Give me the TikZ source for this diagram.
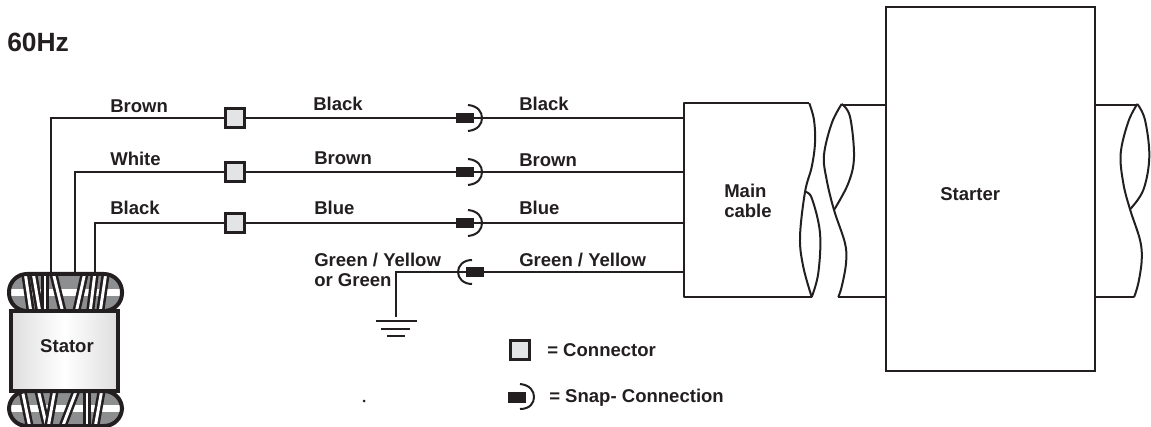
\documentclass[tikz,border=0pt]{standalone}
\usepackage{fontspec}
\setmainfont{Liberation Sans}
\definecolor{ink}{HTML}{231F20}
\definecolor{boxfill}{HTML}{E3E4E5}
\definecolor{band}{HTML}{8C8E90}
\tikzset{
  lab/.style={anchor=mid west,inner sep=0pt,yshift=-2.3pt,font=\fontsize{13.9pt}{15pt}\selectfont\bfseries,text=ink,align=left},
  wire/.style={draw=ink,line width=1.4pt},
  outline/.style={draw=ink,line width=1.6pt},
  conn/.style={draw=ink,line width=2.7pt,fill=boxfill,minimum size=14.5pt,inner sep=0pt,rectangle},
  snapblock/.style={fill=ink,draw=none,minimum width=13.5pt,minimum height=7.8pt,inner sep=0pt,rectangle},
  snaparc/.style={draw=ink,line width=1.5pt},
  stripe/.style={line width=2.2pt,draw=white},
  blackstripe/.style={line width=6pt,draw=ink},
  wave/.style={draw=ink,line width=1.5pt,line join=round}
}
\begin{document}
\begin{tikzpicture}[x=0.75pt,y=-0.75pt]
\useasboundingbox (0,0) rectangle (1151,427);
\node[lab,font=\fontsize{19.8pt}{22pt}\selectfont\bfseries,yshift=-2pt] (hz) at (7,42) {60Hz};
% stator coils
\def\coil#1#2{%
  \begin{scope}
    \clip[rounded corners=13.5pt] (9,#1) rectangle (122,#2);
    \fill[band] (9,#1) rectangle (122,#2);
    \fill[white] (9,{(#1+#2)/2-3.5}) rectangle (122,{(#1+#2)/2+3.5});
  \end{scope}}
\coil{274}{311}
\coil{391}{426}
\begin{scope}
  \clip[rounded corners=13.5pt] (9,274) rectangle (122,311);
  \foreach \a/\b in {25/31,33/40,45/45,53/63,85/76,95/90,106/100}{
    \draw[blackstripe] (\a,272) -- (\b,313);
    \draw[stripe] (\a,272) -- (\b,313);
  }
\end{scope}
\draw[draw=ink,line width=3pt,rounded corners=13.5pt] (9,274) rectangle (122,311);
\begin{scope}
  \clip[rounded corners=13.5pt] (9,391) rectangle (122,426);
  \foreach \a/\b in {22/30,38/47,55/48,77/62,87/87,102/95}{
    \draw[blackstripe] (\a,389) -- (\b,428);
    \draw[stripe] (\a,389) -- (\b,428);
  }
\end{scope}
\draw[draw=ink,line width=3pt,rounded corners=13.5pt] (9,391) rectangle (122,426);
% stator body
\shade[left color=black!13,right color=black!13,middle color=white] (11,311) rectangle (118,391);
\node[draw=ink,line width=2.8pt,minimum width=80.25pt,minimum height=60pt,inner sep=0pt] (stator) at (64.5,351) {};
\node[inner sep=0pt,text=ink,font=\fontsize{13.9pt}{15pt}\selectfont\bfseries] (statorlab) at (67,346) {Stator};
% free ends
\coordinate (w1) at (51,273);
\coordinate (w2) at (75,273);
\coordinate (w3) at (95,273);
\coordinate (c1) at (684,118);
\coordinate (c2) at (684,172);
\coordinate (c3) at (684,223);
\coordinate (c4) at (684,272);
\coordinate (gtop) at (396,272);
\coordinate (gbot) at (396,317);
% connectors and snaps
\node[conn] (b1) at (235,118) {};
\node[conn] (b2) at (235,172) {};
\node[conn] (b3) at (235,223) {};
\node[snapblock] (s1) at (465,118) {};
\node[snapblock] (s2) at (465,172) {};
\node[snapblock] (s3) at (465,223) {};
\node[snapblock] (s4) at (475,272) {};
% wires
\draw[wire] (w1) |- (b1);
\draw[wire] (w2) |- (b2);
\draw[wire] (w3) |- (b3);
\draw[wire] (b1) -- (s1);
\draw[wire] (b2) -- (s2);
\draw[wire] (b3) -- (s3);
\draw[wire] (s1) -- (c1);
\draw[wire] (s2) -- (c2);
\draw[wire] (s3) -- (c3);
\draw[wire] (s4) -- (c4);
\draw[wire] (s4) -- (gtop) -- (gbot);
% snap arcs
\foreach \y in {118,172,223}{
  \draw[snaparc] (468,\y-13) .. controls (478,\y-12) and (482,\y-6) .. (482,\y) .. controls (482,\y+6) and (478,\y+12) .. (468,\y+13);
}
\draw[snaparc] (472,260) .. controls (463,260) and (458,266) .. (458,272) .. controls (458,278) and (463,284) .. (472,284);
% ground
\draw[draw=ink,line width=1.3pt] (376,321) -- (417,321);
\draw[draw=ink,line width=1.3pt] (381,329) -- (410,329);
\draw[draw=ink,line width=1.3pt] (387,336) -- (405,336);
% main cable
\draw[outline,line join=round] (809.3,103) -- (684,103) -- (684,297) -- (811.7,297);
\draw[wave] plot[smooth,tension=0.6] coordinates {(809.3,103.3) (814,120) (815,143) (811.7,167) (805,192) (800,237) (803.3,267) (811.7,297)};
\draw[wave] plot[smooth,tension=0.6] coordinates {(805,192) (811.7,198) (820,233) (818.3,273) (811.7,297)};
\node[lab,anchor=north west,yshift=2.3pt] (main) at (724,184) {Main\\cable};
% starter
\node[draw=ink,line width=1.8pt,minimum width=156.75pt,minimum height=273pt,inner sep=0pt] (st) at (990.5,189) {};
\node[lab] (startlab) at (940,194) {Starter};
% left stub
\coordinate (lt) at (841.7,105);
\coordinate (lb) at (838.3,297);
\draw[outline] (lt) -- (lt -| st.west);
\draw[outline] (lb) -- (lb -| st.west);
\draw[wave] plot[smooth,tension=0.6] coordinates {(841.7,104) (831.7,123.3) (824,155) (826.7,180) (834,210) (845,243.3) (846,263.3) (841.7,286.7) (838.3,297)};
\draw[wave] plot[smooth,tension=0.6] coordinates {(841.7,104) (850,116.7) (854,156.7) (848.3,183.3) (834,210)};
% right stub
\coordinate (rt) at (1137.3,105.3);
\coordinate (rb) at (1134,297.3);
\draw[outline] (rt) -- (rt -| st.east);
\draw[outline] (rb) -- (rb -| st.east);
\draw[wave] plot[smooth,tension=0.6] coordinates {(1137.3,104) (1128.3,121.7) (1120.7,153.3) (1123.3,183.3) (1130,209.3) (1140,240) (1141.7,260) (1138.3,283.3) (1134,297.3)};
\draw[wave] plot[smooth,tension=0.6] coordinates {(1137.3,104) (1145,120) (1149.3,156.7) (1143.3,190) (1130,209.3)};
% labels
\node[lab] (l1) at (110,106) {Brown};
\node[lab] (l2) at (313,104) {Black};
\node[lab] (l3) at (519,104) {Black};
\node[lab] (l4) at (110,159) {White};
\node[lab] (l5) at (314,158) {Brown};
\node[lab] (l6) at (519,160) {Brown};
\node[lab] (l7) at (110,208) {Black};
\node[lab] (l8) at (314,208) {Blue};
\node[lab] (l9) at (519,208) {Blue};
\node[lab] (l10) at (519,260) {Green / Yellow};
\node[lab] (l11) at (314,260) {Green / Yellow};
\node[lab] (l12) at (314,280) {or Green};
% legend
\node[conn] (legbox) at (520,350) {};
\node[snapblock] (legsnap) at (517,397.5) {};
\draw[snaparc] (520,384) .. controls (530,385) and (534,391) .. (534,397) .. controls (534,403) and (530,409) .. (520,409);
\node[lab] (t1) at (547,350) {= Connector};
\node[lab] (t2) at (549,396) {= Snap- Connection};
\fill[ink] (364,401) circle (1.5);
\end{tikzpicture}
\end{document}
